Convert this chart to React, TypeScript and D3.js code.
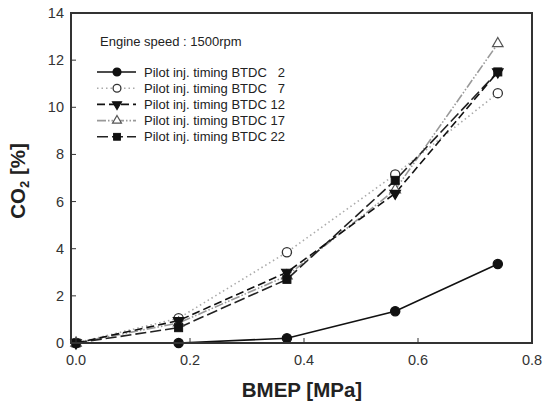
import React from "react";
import * as d3 from "d3";

const bmep = [0, 0.18, 0.37, 0.56, 0.74];
const seriesNames = [
  "Pilot inj. timing BTDC   2",
  "Pilot inj. timing BTDC   7",
  "Pilot inj. timing BTDC 12",
  "Pilot inj. timing BTDC 17",
  "Pilot inj. timing BTDC 22",
];
const co2Btdc2 = [0, 0, 0.2, 1.35, 3.35];
const co2Btdc7 = [0, 1.05, 3.85, 7.15, 10.6];
const co2Btdc12 = [0, 0.95, 3.0, 6.35, 11.5];
const co2Btdc17 = [0, 0.85, 2.85, 6.5, 12.7];
const co2Btdc22 = [0, 0.65, 2.7, 6.9, 11.5];
const xTicks = [0, 0.2, 0.4, 0.6, 0.8];
const yTicks = [0, 2, 4, 6, 8, 10, 12, 14];

type Style = { stroke: string; dash: string; marker: string; fill: string; mstroke: string };
const styles: Style[] = [
  { stroke: "#111", dash: "", marker: "circle", fill: "#111", mstroke: "#111" },
  { stroke: "#aaa", dash: "1.5,3", marker: "circle", fill: "#fff", mstroke: "#333" },
  { stroke: "#111", dash: "8,4", marker: "down", fill: "#111", mstroke: "#111" },
  { stroke: "#999", dash: "9,2,1.5,2,1.5,2", marker: "up", fill: "#fff", mstroke: "#555" },
  { stroke: "#222", dash: "11,4", marker: "square", fill: "#111", mstroke: "#111" },
];

const W = 545, H = 406;
const left = 71, right = 532, top = 13, bottom = 343;

function Marker({ type, x, y, fill, stroke, s = 1 }: { type: string; x: number; y: number; fill: string; stroke: string; s?: number }) {
  if (type === "circle") return <circle cx={x} cy={y} r={4.6 * s} fill={fill} stroke={stroke} strokeWidth={1.3} />;
  if (type === "square") return <rect x={x - 4 * s} y={y - 4 * s} width={8 * s} height={8 * s} fill={fill} stroke={stroke} />;
  const sym = d3.symbol().type(d3.symbolTriangle).size(48 * s * s)();
  const rot = type === "down" ? 180 : 0;
  return <path d={sym || ""} transform={`translate(${x},${y}) rotate(${rot})`} fill={fill} stroke={stroke} strokeWidth={1.2} />;
}

export default function App() {
  const x = d3.scaleLinear().domain([-0.0088, 0.8]).range([left, right]);
  const y = d3.scaleLinear().domain([0, 14]).range([bottom, top]);
  const data = [co2Btdc2, co2Btdc7, co2Btdc12, co2Btdc17, co2Btdc22];
  const line = d3.line<number>().x((_, i) => x(bmep[i])).y((d) => y(d));
  const font = "'Liberation Sans', Arial, sans-serif";
  const order = [0, 1, 3, 4, 2];
  return (
    <svg width={W} height={H} style={{ position: "absolute", left: 0, top: 0 }} fontFamily={font}>
      <rect width={W} height={H} fill="#fff" />
      {order.map((si) => (
        <path key={"l" + si} d={line(data[si]) || ""} fill="none" stroke={styles[si].stroke} strokeWidth={1.6} strokeDasharray={styles[si].dash} />
      ))}
      {order.map((si) =>
        data[si].map((v, i) => (
          <Marker key={`m${si}-${i}`} type={styles[si].marker} x={x(bmep[i])} y={y(v)} fill={styles[si].fill} stroke={styles[si].mstroke} />
        ))
      )}
      <rect x={left} y={top} width={right - left} height={bottom - top} fill="none" stroke="#333" strokeWidth={2} />
      {xTicks.map((t) => (
        <g key={"xt" + t}>
          <line x1={x(t)} x2={x(t)} y1={bottom} y2={bottom - 5} stroke="#333" strokeWidth={1} />
          <text x={x(t)} y={bottom + 22} textAnchor="middle" fontSize={14.5} fill="#333">{t.toFixed(1)}</text>
        </g>
      ))}
      {yTicks.map((t) => (
        <g key={"yt" + t}>
          <line x1={left} x2={left + 5} y1={y(t)} y2={y(t)} stroke="#333" strokeWidth={1} />
          <text x={left - 7} y={y(t) + 5} textAnchor="end" fontSize={14.5} fill="#333">{t}</text>
        </g>
      ))}
      <text x={302} y={397} textAnchor="middle" fontSize={20.5} fontWeight="bold" fill="#222">BMEP [MPa]</text>
      <text transform={`translate(25,181) rotate(-90)`} textAnchor="middle" fontSize={20.5} fontWeight="bold" fill="#222">
        CO<tspan fontSize={13} dy={4}>2</tspan><tspan dy={-4}> [%]</tspan>
      </text>
      <text x={100} y={46} fontSize={13} fill="#222">Engine speed : 1500rpm</text>
      {seriesNames.map((name, si) => {
        const ly = 72 + si * 16.2;
        const st = styles[si];
        return (
          <g key={"lg" + si}>
            <line x1={97} x2={136} y1={ly} y2={ly} stroke={st.stroke} strokeWidth={1.6} strokeDasharray={st.dash} />
            <Marker type={st.marker} x={117} y={ly} fill={st.fill} stroke={st.mstroke} s={0.85} />
            <text x={144} y={ly + 4.5} fontSize={13} fill="#222" style={{ whiteSpace: "pre" }}>{name}</text>
          </g>
        );
      })}
    </svg>
  );
}
